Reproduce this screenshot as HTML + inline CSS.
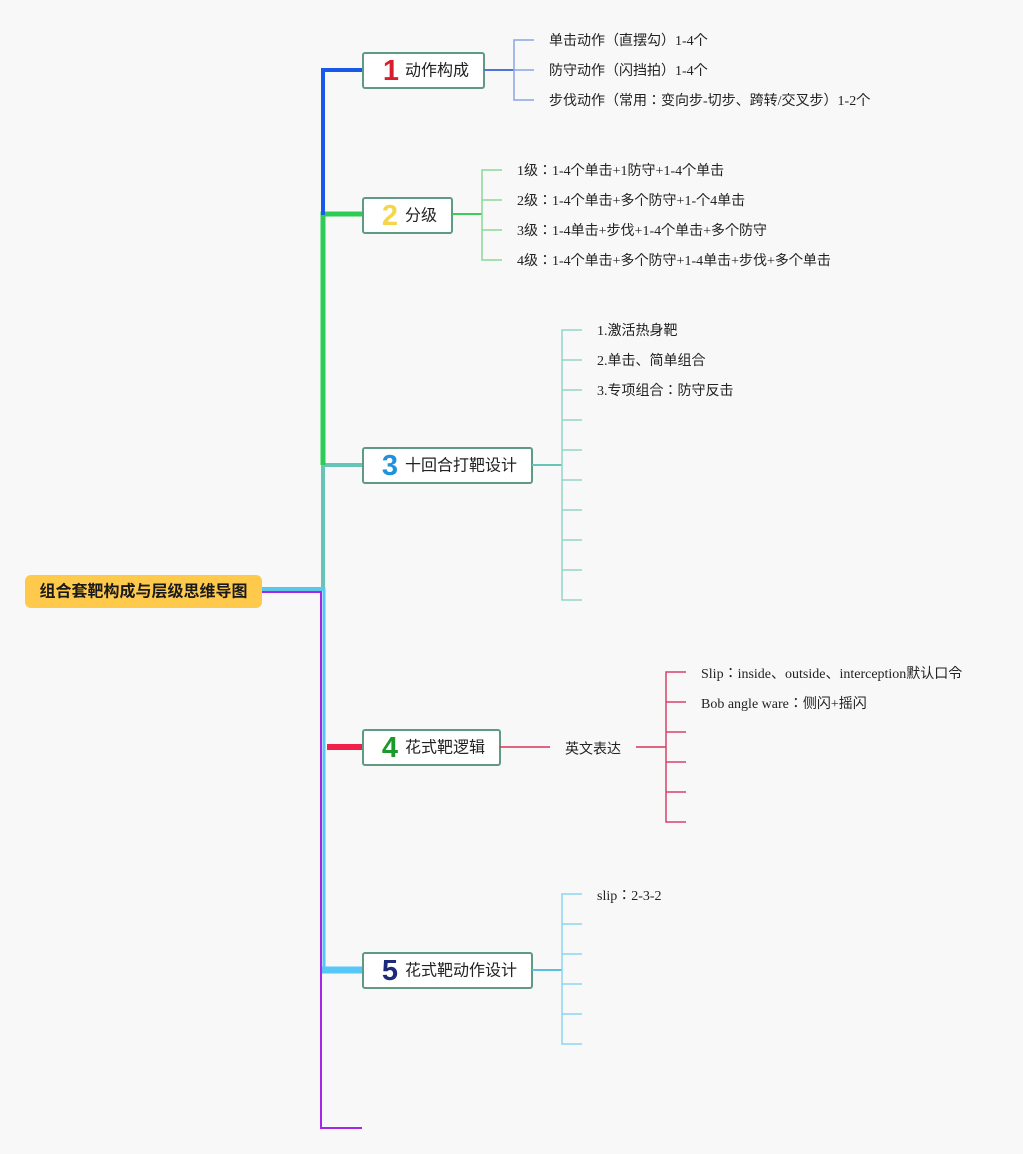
<!DOCTYPE html>
<html><head><meta charset="utf-8"><style>
html,body{margin:0;padding:0;background:#f8f8f8;}
svg{display:block;}
.t{font-family:"Liberation Serif","Noto Sans CJK JP",serif;font-size:14px;fill:#222;dominant-baseline:central;}
.nl{font-family:"Liberation Sans","Noto Sans CJK SC",sans-serif;font-size:16px;fill:#222;dominant-baseline:central;}
.num{font-family:"Liberation Sans","DejaVu Sans",sans-serif;font-size:29px;font-weight:bold;dominant-baseline:central;text-anchor:middle;}
</style></head><body>
<svg width="1023" height="1154" viewBox="0 0 1023 1154" xmlns="http://www.w3.org/2000/svg">
<rect width="1023" height="1154" fill="#f8f8f8"/>

<!-- trunk lines -->
<path d="M262,589 H323 V465 H362" fill="none" stroke="#66c5b6" stroke-width="4"/>
<path d="M323,465 V214 H362" fill="none" stroke="#2ecc55" stroke-width="5"/>
<path d="M323,215 V70 H362" fill="none" stroke="#1a58e8" stroke-width="4"/>
<path d="M262,589 H324 V970" fill="none" stroke="#55c8f8" stroke-width="3"/>
<line x1="322" y1="970" x2="362" y2="970" stroke="#55c8f8" stroke-width="7"/>
<path d="M262,592 H321 V1128 H362" fill="none" stroke="#a826e8" stroke-width="2"/>
<line x1="327" y1="747" x2="362" y2="747" stroke="#f0204a" stroke-width="6"/>

<!-- root -->
<rect x="25" y="575" width="237" height="33" rx="6" fill="#ffc94b"/>
<text x="143.5" y="592" text-anchor="middle" style="font-family:'Liberation Sans','Noto Sans CJK SC',sans-serif;font-size:16px;font-weight:bold;fill:#1a1a1a;dominant-baseline:central;">组合套靶构成与层级思维导图</text>

<!-- Node 1 -->
<rect x="363" y="53" width="121" height="35" rx="2" fill="#fff" stroke="#5f9a85" stroke-width="2"/>
<text x="391" y="71" class="num" fill="#d81e2c">1</text>
<text x="405" y="71" class="nl">动作构成</text>
<line x1="484" y1="70" x2="514" y2="70" stroke="#4f74d8" stroke-width="2"/>
<path d="M534,40 H514 V100 H534 M514,70 H534" fill="none" stroke="#8aa6e6" stroke-width="1.5"/>
<text x="549" y="41.5" class="t">单击动作（直摆勾）1-4个</text>
<text x="549" y="71.5" class="t">防守动作（闪挡拍）1-4个</text>
<text x="549" y="101.5" class="t">步伐动作（常用：变向步-切步、跨转/交叉步）1-2个</text>

<!-- Node 2 -->
<rect x="363" y="198" width="89" height="35" rx="2" fill="#fff" stroke="#5f9a85" stroke-width="2"/>
<text x="390" y="216" class="num" fill="#f5d54a">2</text>
<text x="405" y="216" class="nl">分级</text>
<line x1="452" y1="214" x2="482" y2="214" stroke="#3ccc5a" stroke-width="2"/>
<path d="M502,170 H482 V260 H502 M482,200 H502 M482,230 H502" fill="none" stroke="#8ad898" stroke-width="1.5"/>
<text x="517" y="171.5" class="t">1级：1-4个单击+1防守+1-4个单击</text>
<text x="517" y="201.5" class="t">2级：1-4个单击+多个防守+1-个4单击</text>
<text x="517" y="231.5" class="t">3级：1-4单击+步伐+1-4个单击+多个防守</text>
<text x="517" y="261.5" class="t">4级：1-4个单击+多个防守+1-4单击+步伐+多个单击</text>

<!-- Node 3 -->
<rect x="363" y="448" width="169" height="35" rx="2" fill="#fff" stroke="#5f9a85" stroke-width="2"/>
<text x="390" y="466" class="num" fill="#1e92da">3</text>
<text x="405" y="466" class="nl">十回合打靶设计</text>
<line x1="532" y1="465" x2="562" y2="465" stroke="#66c5b6" stroke-width="2"/>
<path d="M582,330 H562 V600 H582 M562,360 H582 M562,390 H582 M562,420 H582 M562,450 H582 M562,480 H582 M562,510 H582 M562,540 H582 M562,570 H582" fill="none" stroke="#92d6c8" stroke-width="1.5"/>
<text x="597" y="331.5" class="t">1.激活热身靶</text>
<text x="597" y="361.5" class="t">2.单击、简单组合</text>
<text x="597" y="391.5" class="t">3.专项组合：防守反击</text>

<!-- Node 4 -->
<rect x="363" y="730" width="137" height="35" rx="2" fill="#fff" stroke="#5f9a85" stroke-width="2"/>
<text x="390" y="748" class="num" fill="#1a9a2a">4</text>
<text x="405" y="748" class="nl">花式靶逻辑</text>
<line x1="500" y1="747" x2="550" y2="747" stroke="#d8345a" stroke-width="1.5"/>
<text x="565" y="748.5" class="t" style="font-family:'Liberation Sans','Noto Sans CJK SC',sans-serif;">英文表达</text>
<line x1="636" y1="747" x2="666" y2="747" stroke="#d8345a" stroke-width="1.5"/>
<path d="M686,672 H666 V822 H686 M666,702 H686 M666,732 H686 M666,762 H686 M666,792 H686" fill="none" stroke="#d8406a" stroke-width="1.5"/>
<text x="701" y="674.5" class="t">Slip：inside、outside、interception默认口令</text>
<text x="701" y="704.5" class="t">Bob angle ware：侧闪+摇闪</text>

<!-- Node 5 -->
<rect x="363" y="953" width="169" height="35" rx="2" fill="#fff" stroke="#5f9a85" stroke-width="2"/>
<text x="390" y="971" class="num" fill="#1c2a7c">5</text>
<text x="405" y="971" class="nl">花式靶动作设计</text>
<line x1="532" y1="970" x2="562" y2="970" stroke="#55c0e0" stroke-width="2"/>
<path d="M582,894 H562 V1044 H582 M562,924 H582 M562,954 H582 M562,984 H582 M562,1014 H582" fill="none" stroke="#8ad6f2" stroke-width="1.5"/>
<text x="597" y="896.5" class="t">slip：2-3-2</text>
</svg>
</body></html>
